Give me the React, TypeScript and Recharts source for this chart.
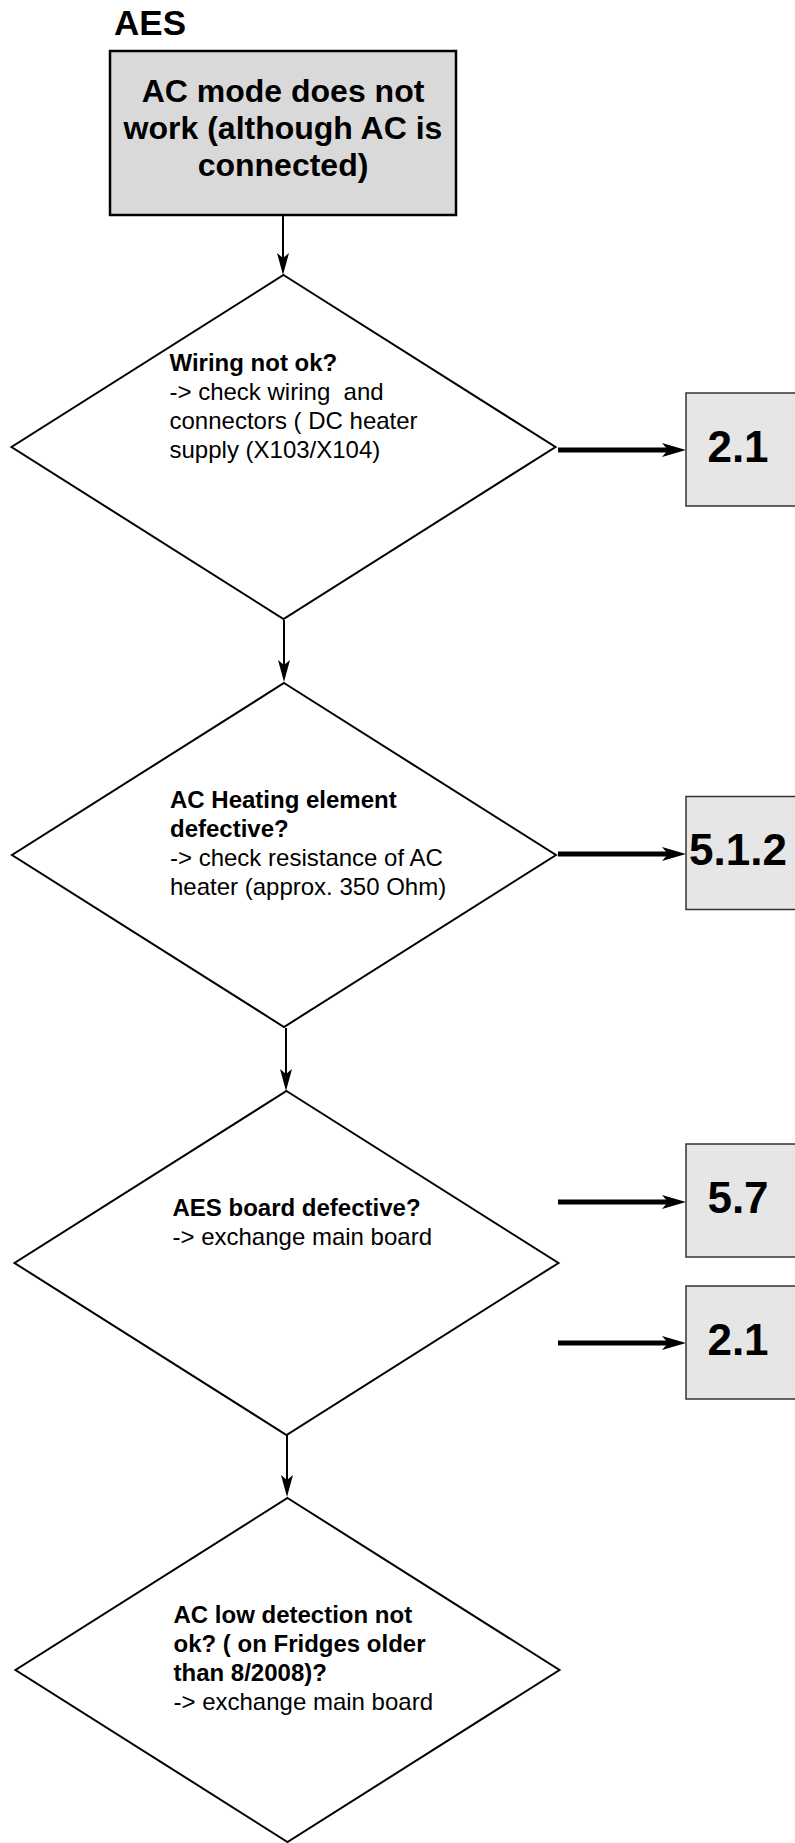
import { ScatterChart, Scatter, XAxis, YAxis, ReferenceLine } from "recharts";

const W = 795;
const H = 1843;
const FONT = "'Liberation Sans', Arial, Helvetica, sans-serif";

// page heading
const headings = [{ x: 150, y: 35, text: "AES" }];

// start box
const startNodes = [
  { x: 283, y: 133, lines: ["AC mode does not", "work (although AC is", "connected)"] },
];

// decision diamonds (centre, bold question lines, plain hint lines)
const decisions = [
  {
    x: 283.5,
    y: 447,
    lift: 1,
    bold: ["Wiring not ok?"],
    plain: ["-> check wiring  and", "connectors ( DC heater", "supply (X103/X104)"],
  },
  {
    x: 284,
    y: 855,
    lift: 0,
    bold: ["AC Heating element", "defective?"],
    plain: ["-> check resistance of AC", "heater (approx. 350 Ohm)"],
  },
  {
    x: 286.5,
    y: 1263,
    lift: 0,
    bold: ["AES board defective?"],
    plain: ["-> exchange main board"],
  },
  {
    x: 287.5,
    y: 1670,
    lift: 0,
    bold: ["AC low detection not", "ok? ( on Fridges older", "than 8/2008)?"],
    plain: ["-> exchange main board"],
  },
];

// chapter reference boxes
const targets = [
  { x: 738, y: 449.5, label: "2.1" },
  { x: 738, y: 853, label: "5.1.2" },
  { x: 738, y: 1200.5, label: "5.7" },
  { x: 738, y: 1342.5, label: "2.1" },
];

// flow arrows
const downLinks = [
  { x: 283, y1: 215, y2: 275 },
  { x: 284, y1: 620, y2: 682 },
  { x: 286, y1: 1028, y2: 1091 },
  { x: 287, y1: 1435, y2: 1497 },
];
const sideLinks = [
  { y: 450, x1: 558, x2: 686 },
  { y: 854, x1: 558, x2: 686 },
  { y: 1202, x1: 558, x2: 686 },
  { y: 1343, x1: 558, x2: 686 },
];

const DIA_W = 272;
const DIA_H = 172;
const LINE = 29;

const Heading = (props: any) => {
  const { cx, cy, payload } = props;
  return (
    <text x={cx} y={cy} textAnchor="middle" fontFamily={FONT} fontWeight={700} fontSize={35} fill="#000">
      {payload.text}
    </text>
  );
};

const StartBox = (props: any) => {
  const { cx, cy, payload } = props;
  return (
    <g>
      <rect x={cx - 173} y={cy - 82} width={346} height={164} fill="#d9d9d9" stroke="#000" strokeWidth={2.5} />
      {payload.lines.map((l: string, i: number) => (
        <text
          key={i}
          x={cx}
          y={cy - 31 + i * 37}
          textAnchor="middle"
          fontFamily={FONT}
          fontWeight={700}
          fontSize={32}
          fill="#000"
        >
          {l}
        </text>
      ))}
    </g>
  );
};

const Diamond = (props: any) => {
  const { cx, cy, payload } = props;
  const pts = `${cx},${cy - DIA_H} ${cx + DIA_W},${cy} ${cx},${cy + DIA_H} ${cx - DIA_W},${cy}`;
  const all = [
    ...payload.bold.map((t: string) => ({ t, b: true })),
    ...payload.plain.map((t: string) => ({ t, b: false })),
  ];
  const top = cy - 47 - payload.lift * LINE;
  return (
    <g>
      <polygon points={pts} fill="#fff" stroke="#000" strokeWidth={2} strokeLinejoin="miter" />
      {all.map((l, i) => (
        <text
          key={i}
          x={cx - 114}
          y={top + i * LINE}
          fontFamily={FONT}
          fontWeight={l.b ? 700 : 400}
          fontSize={24}
          fill="#000"
          style={{ whiteSpace: "pre" }}
        >
          {l.t}
        </text>
      ))}
    </g>
  );
};

const Target = (props: any) => {
  const { cx, cy, payload } = props;
  return (
    <g>
      <rect x={cx - 52} y={cy - 56.5} width={160} height={113} fill="#e6e6e6" stroke="#333" strokeWidth={1.5} />
      <text x={cx} y={cy + 12} textAnchor="middle" fontFamily={FONT} fontWeight={700} fontSize={44} fill="#000">
        {payload.label}
      </text>
    </g>
  );
};

const thinArrow = (p: any) => {
  const { x1, y1, x2, y2 } = p;
  return (
    <g>
      <line x1={x1} y1={y1} x2={x2} y2={y2 - 16} stroke="#000" strokeWidth={2} />
      <polygon points={`${x2},${y2} ${x2 - 6},${y2 - 22} ${x2},${y2 - 17} ${x2 + 6},${y2 - 22}`} fill="#000" />
    </g>
  );
};

const thickArrow = (p: any) => {
  const { x1, y1, x2, y2 } = p;
  return (
    <g>
      <line x1={x1} y1={y1} x2={x2 - 16} y2={y2} stroke="#000" strokeWidth={5} />
      <polygon points={`${x2},${y2} ${x2 - 24},${y2 - 7} ${x2 - 18},${y2} ${x2 - 24},${y2 + 7}`} fill="#000" />
    </g>
  );
};

export default function App() {
  return (
    <div style={{ position: "absolute", left: 0, top: 0, width: W, height: H, background: "#fff" }}>
      <ScatterChart width={W} height={H} margin={{ top: 0, right: 0, bottom: 0, left: 0 }}>
        <XAxis type="number" dataKey="x" domain={[0, W]} allowDataOverflow hide />
        <YAxis type="number" dataKey="y" domain={[0, H]} allowDataOverflow reversed hide />
        {downLinks.map((l, i) => (
          <ReferenceLine
            key={`d${i}`}
            segment={[
              { x: l.x, y: l.y1 },
              { x: l.x, y: l.y2 },
            ]}
            ifOverflow="visible"
            shape={thinArrow}
          />
        ))}
        {sideLinks.map((l, i) => (
          <ReferenceLine
            key={`s${i}`}
            segment={[
              { x: l.x1, y: l.y },
              { x: l.x2, y: l.y },
            ]}
            ifOverflow="visible"
            shape={thickArrow}
          />
        ))}
        <Scatter data={headings} shape={Heading} isAnimationActive={false} />
        <Scatter data={startNodes} shape={StartBox} isAnimationActive={false} />
        <Scatter data={decisions} shape={Diamond} isAnimationActive={false} />
        <Scatter data={targets} shape={Target} isAnimationActive={false} />
      </ScatterChart>
    </div>
  );
}
